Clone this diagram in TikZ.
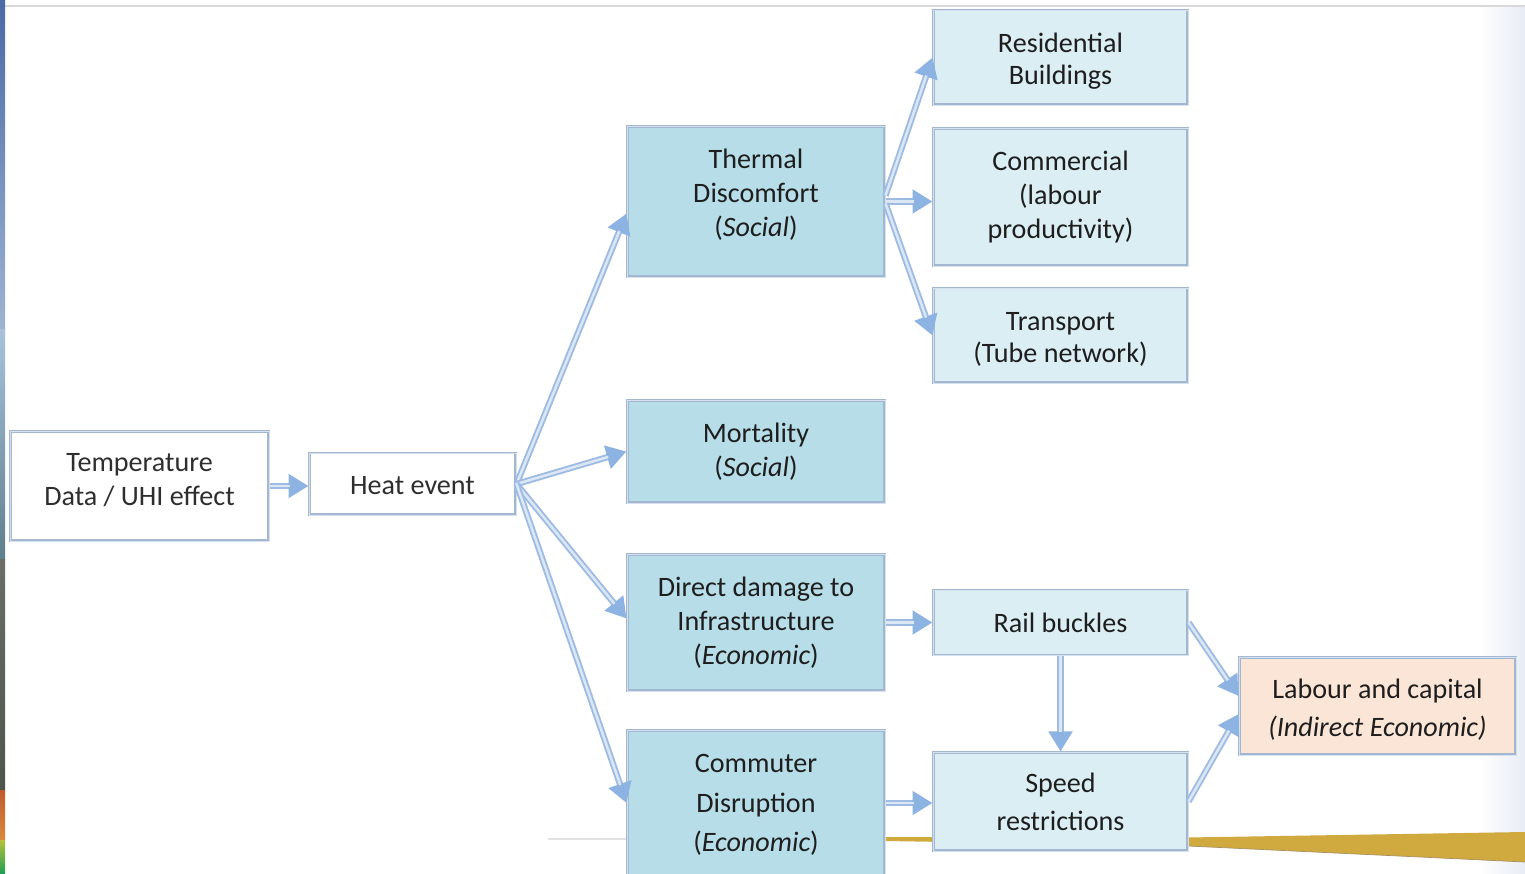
\documentclass[tikz,border=0pt]{standalone}
\usepackage{fontspec}
\setmainfont{Carlito}
\usetikzlibrary{arrows.meta,calc}
\definecolor{boxdark}{HTML}{B7DDE8}
\definecolor{boxlight}{HTML}{DBEEF4}
\definecolor{boxpeach}{HTML}{FBE5D6}
\definecolor{boxedge}{HTML}{A3B7D1}
\definecolor{boxedgein}{HTML}{D5E1EF}
\definecolor{arredge}{HTML}{9EBCE3}
\definecolor{arrinner}{HTML}{DCE7F6}
\definecolor{arrhead}{HTML}{8DB3E2}
\definecolor{txt}{HTML}{1E1E1E}
\definecolor{txtgray}{HTML}{2E2E2E}
\definecolor{gold}{HTML}{D1AA3F}
\definecolor{goldedge}{HTML}{A89060}
\definecolor{rightgrad}{HTML}{E8EDF5}
\definecolor{topline}{HTML}{D9D9D9}
\definecolor{faintline}{HTML}{E2E2E2}
\definecolor{sa}{HTML}{4B69A6}
\definecolor{sb}{HTML}{9FB4D2}
\definecolor{sc}{HTML}{A9C2DC}
\definecolor{sd}{HTML}{5F7F8C}
\definecolor{se}{HTML}{6A6E66}
\definecolor{sf}{HTML}{4E564C}
\definecolor{sg}{HTML}{C05A2E}
\definecolor{sh}{HTML}{D98A3A}
\definecolor{si}{HTML}{B5C23A}
\definecolor{sj}{HTML}{1E9E55}
\begin{document}
\begin{tikzpicture}[x=0.02cm,y=-0.02cm,
  box/.style={draw=boxedge, double=boxedgein, double distance=0.5pt, line width=0.6pt,
    inner sep=0pt},
  tx/.style={align=center, text=txt, inner sep=0pt, font=\fontsize{16}{19.4}\selectfont},
  dark/.style={box, fill=boxdark, minimum width=5.16cm},
  light/.style={box, fill=boxlight, minimum width=5.1cm},
  arr/.style={line width=3.6pt, draw=arredge,
    -{Triangle[length=0.4cm,width=0.46cm,fill=arrhead,color=arrhead]},
    postaction={draw=arrinner, line width=1.4pt, -, shorten >=0.38cm}}]
\useasboundingbox (0,0) rectangle (1525,874);
% slide background
\fill[white] (0,0) rectangle (1525,874);
\shade[left color=white, right color=rightgrad] (1478,8) rectangle (1525,874);
\draw[line width=0.05cm, draw=topline] (0,6) -- (1525,6);
\shade[top color=sa, bottom color=sb] (0,0) rectangle (5,330);
\shade[top color=sc, bottom color=sd] (0,330) rectangle (5,560);
\shade[top color=se, bottom color=sf] (0,560) rectangle (5,790);
\shade[top color=sg, bottom color=sh] (0,790) rectangle (5,840);
\shade[top color=si, bottom color=sj] (0,840) rectangle (5,874);
\draw[line width=0.04cm, draw=faintline] (548,839) -- (627,839);
\fill[gold] (885,837) -- (1188,837.5) -- (1525,832) -- (1525,862) -- (1188,846) -- (885,841) -- cycle;
\draw[draw=goldedge, line width=0.4pt] (1188,846) -- (1525,862);
% nodes
\node[box, fill=white, minimum width=5.18cm, minimum height=2.2cm,
  label={[tx, text=txtgray, yshift=0.12cm]center:{Temperature\\Data / UHI effect}}] (temp) at (139.5,486) {};
\node[box, fill=white, minimum width=4.14cm, minimum height=1.24cm,
  label={[tx, text=txtgray, yshift=-0.04cm]center:{Heat event}}] (heat) at (412.5,484) {};
\node[dark, minimum height=3.02cm,
  label={[tx, yshift=0.14cm]center:{Thermal\\Discomfort\\(\textit{Social})}}] (thermal) at (756,201.5) {};
\node[dark, minimum height=2.06cm,
  label={[tx]center:{Mortality\\(\textit{Social})}}] (mort) at (756,451.5) {};
\node[dark, minimum height=2.74cm,
  label={[tx]center:{Direct damage to\\Infrastructure\\(\textit{Economic})}}] (direct) at (756,622.5) {};
\node[dark, minimum height=2.92cm,
  label={[tx, font=\fontsize{16}{22.4}\selectfont, yshift=-0.04cm]center:{Commuter\\Disruption\\(\textit{Economic})}}] (comm) at (756,803) {};
\node[light, minimum height=1.9cm,
  label={[tx, font=\fontsize{16}{18.2}\selectfont, yshift=-0.08cm]center:{Residential\\Buildings}}] (resid) at (1060.5,57.5) {};
\node[light, minimum height=2.76cm,
  label={[tx]center:{Commercial\\(labour\\productivity)}}] (commer) at (1060.5,197) {};
\node[light, minimum height=1.9cm,
  label={[tx, font=\fontsize{16}{18.2}\selectfont, yshift=-0.08cm]center:{Transport\\(Tube network)}}] (trans) at (1060.5,335.5) {};
\node[light, minimum height=1.3cm,
  label={[tx]center:{Rail buckles}}] (rail) at (1060.5,622.5) {};
\node[light, minimum height=1.98cm,
  label={[tx, font=\fontsize{16}{21.5}\selectfont]center:{Speed\\restrictions}}] (speed) at (1060.5,801.5) {};
\node[box, fill=boxpeach, minimum width=5.54cm, minimum height=1.96cm,
  label={[tx, font=\fontsize{16}{21.5}\selectfont, yshift=-0.08cm]center:{Labour and capital\\\textit{(Indirect Economic)}}}] (labour) at (1377.5,706) {};
% connectors
\draw[arr] (temp.east) -- (temp.east -| heat.west);
\draw[arr] (heat.east) -- ($(thermal.west)+(0,12)$);
\draw[arr] (heat.east) -- (mort.west);
\draw[arr] (heat.east) -- ($(direct.west)+(0,-4)$);
\draw[arr] (heat.east) -- (comm.west);
\draw[arr] ($(thermal.east)+(0,-6)$) -- (resid.west);
\draw[arr] (thermal.east) -- (thermal.east -| commer.west);
\draw[arr] ($(thermal.east)+(0,2)$) -- (trans.west);
\draw[arr] (direct.east) -- (rail.west);
\draw[arr] (comm.east) -- (comm.east -| speed.west);
\draw[arr] (rail.south) -- (speed.north);
\draw[arr] (rail.east) -- ($(labour.west)+(0,-10)$);
\draw[arr] (speed.east) -- ($(labour.west)+(0,8)$);
\end{tikzpicture}
\end{document}
